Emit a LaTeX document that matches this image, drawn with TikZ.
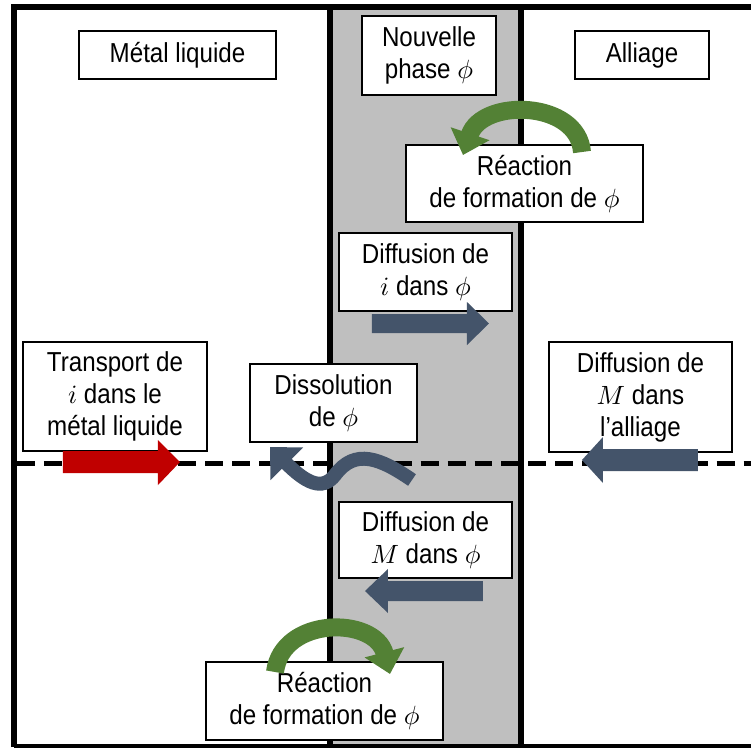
\documentclass[tikz,border=0pt]{standalone}
\usepackage{fontspec}
\setmainfont{Liberation Sans}[FakeStretch=0.88]
\usetikzlibrary{arrows.meta}
\newcommand{\pxl}{0.01332cm}
\definecolor{phasegrey}{HTML}{BFBFBF}
\definecolor{flowblue}{HTML}{44546A}
\definecolor{flowred}{HTML}{C00000}
\definecolor{flowgreen}{HTML}{538135}
\tikzset{
  label box/.style={draw, fill=white, line width=0.6pt, align=center, inner sep=0pt},
  wall/.style={line width=2.3pt},
  reaction arrow/.style={flowgreen, line width=6.8pt, -{Triangle[length=8.5pt,width=15pt]}},
  dissolution arrow/.style={flowblue, line width=5.3pt, -{Triangle[length=9pt,width=17pt]}},
}

\begin{document}
\begin{tikzpicture}[x=\pxl, y=-\pxl, font=\fontsize{10.4}{12.1}\selectfont]
  \useasboundingbox (0,0) rectangle (751,747);

  % phases
  \fill[phasegrey] (330,7) rectangle (521,747);
  \draw[wall] (14,747) -- (14,7) -- (751,7);
  \draw[wall] (330,7) -- (330,747);
  \draw[wall] (521,7) -- (521,747);
  \draw[line width=1.2pt] (14,746) -- (751,746);
  \draw[line width=1.9pt, dash pattern=on 6.8pt off 3.4pt] (17,463) -- (751,463);

  % labels
  \node (metal) [label box, minimum width=197*\pxl, minimum height=48*\pxl] at (177.5,55) {Métal liquide};
  \node (phase) [label box, minimum width=134*\pxl, minimum height=79*\pxl] at (429,55.5) {Nouvelle\\phase $\phi$};
  \node (alliage) [label box, minimum width=134*\pxl, minimum height=48*\pxl] at (642,55) {Alliage};
  \node (reacTop) [label box, minimum width=237*\pxl, minimum height=77*\pxl] at (524.5,183.5) {Réaction\\de formation de $\phi$};
  \node (diffI) [label box, minimum width=173*\pxl, minimum height=78*\pxl] at (425.5,272) {Diffusion de\\$i$ dans $\phi$};
  \node (transport) [label box, minimum width=184*\pxl, minimum height=109*\pxl] at (115,396.5) {Transport de\\$i$ dans le\\métal liquide};
  \node (dissol) [label box, minimum width=167*\pxl, minimum height=78*\pxl] at (333.5,403) {Dissolution\\de $\phi$};
  \node (diffMall) [label box, minimum width=183*\pxl, minimum height=110*\pxl] at (640.5,397) {Diffusion de\\$M$ dans\\l’alliage};
  \node (diffMphi) [label box, minimum width=173*\pxl, minimum height=76*\pxl] at (425.5,540) {Diffusion de\\$M$ dans $\phi$};
  \node (reacBot) [label box, minimum width=237*\pxl, minimum height=78*\pxl] at (324.5,701) {Réaction\\de formation de $\phi$};

  % flux arrows
  \fill[flowred] (63,451) -- (158,451) -- (158,440) -- (180,462) -- (158,485) -- (158,473) -- (63,473) -- cycle;
  \fill[flowblue] (372,314) -- (467,314) -- (467,302) -- (489,323.5) -- (467,345) -- (467,333) -- (372,333) -- cycle;
  \fill[flowblue] (483,581) -- (388,581) -- (388,569) -- (365,591) -- (388,613) -- (388,601) -- (483,601) -- cycle;
  \fill[flowblue] (698,449) -- (603,449) -- (603,437) -- (582,460) -- (603,483) -- (603,471) -- (698,471) -- cycle;

  % reactions
  \draw[reaction arrow] (582,152) .. controls (578,100) and (482,98) .. (463,155);
  \draw[reaction arrow] (275,672) .. controls (282,616) and (375,616) .. (390,674);
  \draw[dissolution arrow] (412,480) .. controls (380,458) and (355,448) .. (335,475)
    .. controls (322,492) and (305,482) .. (270,447);
\end{tikzpicture}
\end{document}
